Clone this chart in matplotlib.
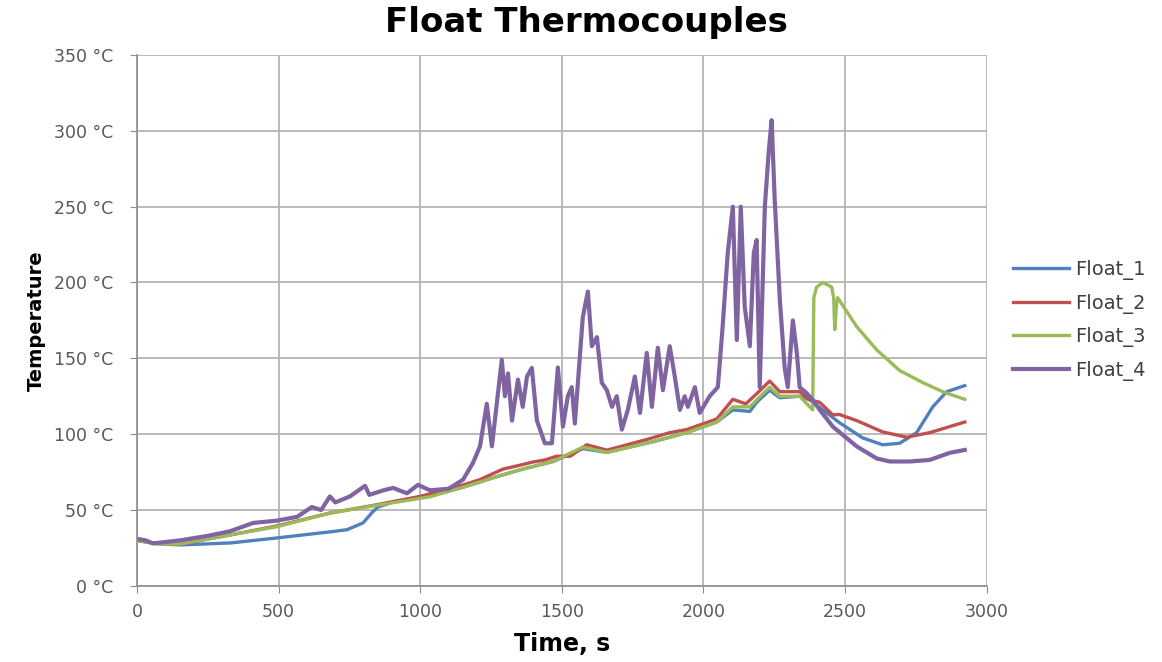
import matplotlib
matplotlib.use("Agg")
import matplotlib.pyplot as plt
from matplotlib.ticker import FuncFormatter, MultipleLocator

plt.rcParams['font.family'] = ['DejaVu Sans']
plt.rcParams['ytick.major.pad'] = 12
plt.rcParams['xtick.major.pad'] = 7

# ---- data (time in s, temperature in °C) ----
t1 = [0, 60, 150, 330, 494, 681, 741, 798, 833, 851, 900, 1000, 1151, 1270, 1352, 1469, 1574, 1659,
      1821, 1941, 2047, 2104, 2164, 2188, 2234, 2270, 2340, 2376, 2481, 2562, 2633, 2693, 2753, 2810,
      2859, 2923]
y1 = [30, 28, 27, 28.3, 31.6, 35.6, 37, 41.5, 49, 52, 55, 58.7, 65, 72, 76.5, 82, 90.5, 88,
      95, 101, 108, 116, 115, 121, 129, 124, 125, 122.6, 107.5, 97.6, 93, 94, 101, 118,
      128, 132]

t2 = [0, 60, 150, 330, 494, 681, 833, 1000, 1151, 1210, 1292, 1340, 1394, 1440, 1482, 1530, 1588,
      1659, 1720, 1800, 1881, 1940, 2047, 2104, 2150, 2190, 2234, 2270, 2340, 2376, 2411, 2457,
      2480, 2541, 2633, 2718, 2799, 2870, 2923]
y2 = [30, 28, 27.5, 33.6, 39.5, 48, 53, 59, 66.5, 70, 77, 79, 81.5, 83, 85.5, 85.5, 93,
      89.5, 92.5, 96.5, 101, 103, 110, 123, 120, 127, 135, 128, 128, 122.6, 121, 112.7,
      113, 109, 101.5, 98, 101, 105, 108]

t3 = [0, 60, 150, 328, 494, 681, 833, 1034, 1151, 1270, 1352, 1469, 1574, 1659, 1821, 1941, 2047,
      2104, 2164, 2188, 2234, 2270, 2340, 2376, 2386, 2390, 2400, 2422, 2453, 2460, 2464, 2470,
      2474, 2541, 2612, 2693, 2775, 2845, 2923]
y3 = [30, 28, 27.5, 33.6, 39, 48, 52.7, 58.7, 65, 72, 76.5, 82, 91.5, 88, 95, 101, 108,
      118, 118, 122.6, 131, 125, 125, 118, 116, 190, 197, 200, 197, 190, 169, 185,
      190, 171, 155.6, 142, 134, 128, 123]

t4 = [0, 30, 56, 152, 250, 328, 410, 494, 565, 617, 650, 681, 700, 752, 805, 820, 870, 904, 953,
      992, 1034, 1100, 1151, 1186, 1211, 1235, 1253, 1288, 1299, 1310, 1324, 1345, 1362, 1377,
      1394, 1412, 1440, 1465, 1486, 1504, 1521, 1535, 1546, 1574, 1592, 1606, 1624, 1641, 1659,
      1677, 1694, 1712, 1733, 1758, 1776, 1800, 1818, 1839, 1857, 1881, 1899, 1917, 1934, 1945,
      1970, 1987, 2022, 2051, 2068, 2086, 2104, 2118, 2132, 2146, 2164, 2178, 2188, 2199, 2217,
      2231, 2241, 2252, 2270, 2287, 2298, 2316, 2330, 2340, 2365, 2386, 2411, 2457, 2541, 2612,
      2658, 2729, 2799, 2870, 2923]
y4 = [31, 30, 28, 30, 33, 36, 41.5, 43, 45.5, 52, 50, 59, 55, 59, 66, 60, 63, 64.6, 61,
      66.6, 63, 64, 70, 81, 92, 120, 92, 149, 125, 140, 109, 136, 118, 138,
      143.7, 109, 94, 94, 144, 105, 125, 131, 107, 177, 194, 158, 164, 134, 129,
      118, 125, 103, 116, 138, 114, 153.6, 118, 157, 129, 158, 138, 116, 125, 118,
      131, 114, 125, 131, 171, 219.5, 250, 162, 250, 184, 158, 219.5, 228, 131, 250,
      287, 307, 254, 188.5, 144, 131, 175, 153.6, 131, 127, 122.6, 116, 105, 92, 84,
      82, 82, 83, 87.7, 89.6]

labels = ['Float_1', 'Float_2', 'Float_3', 'Float_4']
colors = ['#4F81BD', '#C0504D', '#9BBB59', '#8064A2']
widths = [2.4, 2.4, 2.4, 3.0]

fig = plt.figure(figsize=(11.62, 6.62), dpi=100)
ax = fig.add_axes([0.118, 0.115, 0.731, 0.802])

for t, y, lab, c, w in zip([t1, t2, t3, t4], [y1, y2, y3, y4], labels, colors, widths):
    ax.plot(t, y, color=c, lw=w, label=lab, solid_joinstyle='round')

ax.set_xlim(0, 3000)
ax.set_ylim(0, 350)
ax.xaxis.set_major_locator(MultipleLocator(500))
ax.yaxis.set_major_locator(MultipleLocator(50))
ax.yaxis.set_major_formatter(FuncFormatter(lambda v, p: f"{int(v)} °C"))
ax.grid(True, color='#b4b4b4', lw=1.3)
ax.set_axisbelow(True)
for s in ['top', 'right']:
    ax.spines[s].set_visible(False)
for s in ['left', 'bottom']:
    ax.spines[s].set_color('#8c8c8c')
    ax.spines[s].set_linewidth(1.2)
ax.tick_params(axis='both', colors='#8c8c8c', labelcolor='#595959', length=5, direction='out')
ax.tick_params(axis='x', labelsize=12.5)
ax.tick_params(axis='y', labelsize=12.5)

ax.set_xlabel('Time, s', fontsize=17, fontweight='bold', labelpad=8)
ax.set_ylabel('Temperature', fontsize=14, fontweight='bold', labelpad=6)
fig.text(0.505, 0.966, 'Float Thermocouples', fontsize=24.5, fontweight='bold',
         ha='center', va='center')

leg = ax.legend(loc='center left', bbox_to_anchor=(1.01, 0.5), frameon=False, fontsize=14,
                handlelength=2.9, handletextpad=0.3, labelspacing=0.7)
for txt in leg.get_texts():
    txt.set_color('#404040')

fig.savefig('out.png', dpi=100)
